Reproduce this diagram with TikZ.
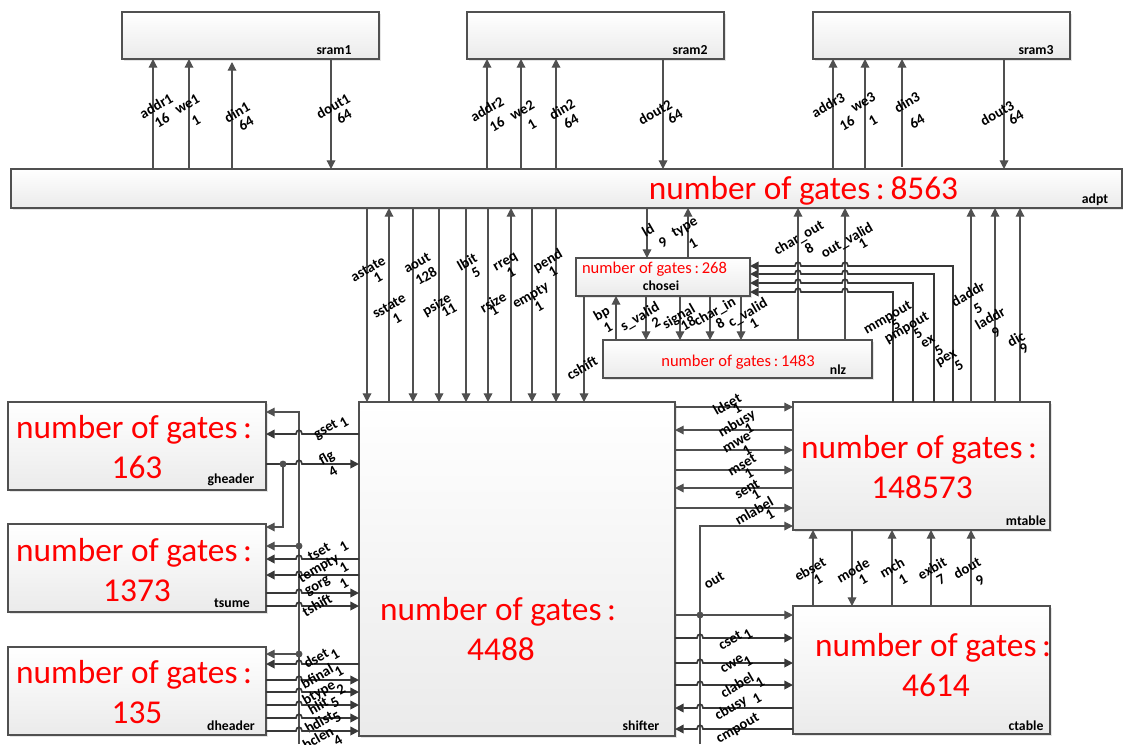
\documentclass[tikz,border=0pt]{standalone}
\usepackage{fontspec}
\setmainfont{Carlito}
\usepackage{tikz}
\usetikzlibrary{arrows.meta, shadows}
\usepackage{xcolor}

\definecolor{wire}{HTML}{505050}
\newcommand{\hop}[2]{-- (#1+3,#2) .. controls (#1+3,#2-5) and (#1-3,#2-5) .. (#1-3,#2)}
\newcommand{\gatesword}{number of gates\kern.17em:\kern.17em}

\begin{document}
\begin{tikzpicture}[
        x=0.75pt, y=-0.75pt,
        modbox/.style 2 args = {draw=wire, line width=0.8pt, inner sep=0, outer sep=0, minimum width=#1*0.75pt, minimum height=#2*0.75pt, top color=white, bottom color=black!8, drop shadow={shadow xshift=1.5pt, shadow yshift=-1.5pt, fill=black!10, opacity=1}},
        modname/.style = {font=\bfseries\fontsize{10.3}{12}\selectfont, inner sep=0, text=black},
        gatesbig/.style = {font=\fontsize{25}{30.4}\selectfont, text=red, align=center, inner sep=0},
        gatessmall/.style = {text=red, inner sep=0},
        sig/.style = {font=\bfseries\fontsize{11}{13}\selectfont, rotate=30, inner sep=0, text=black},
        arrow/.style = {-{Triangle[length=6.5pt, width=6.5pt]}, wire, line width=0.9pt},
        backarrow/.style = {{Triangle[length=6.5pt, width=6.5pt]}-, wire, line width=0.9pt},
        hopwire/.style = {line width=1.25pt, draw=black!78},
        dot/.style = {circle, fill=wire, inner sep=0, minimum size=5.2pt},
    ]
        \useasboundingbox (0,0) rectangle (1123,744);

        % modules
        \node[modbox={257}{47}] (sram1) at (250.5,35.5) {};
        \node[modbox={257}{47}] (sram2) at (595.5,35.5) {};
        \node[modbox={257}{47}] (sram3) at (941.5,35.5) {};
        \node[modbox={1111}{39}] (adpt) at (566.5,188.5) {};
        \node[modbox={174}{38}] (chosei) at (663,277) {};
        \node[modbox={269}{38}] (nlz) at (737.5,359) {};
        \node[modbox={316}{334}] (shifter) at (517,569) {};
        \node[modbox={257}{128}] (mtable) at (921.5,466) {};
        \node[modbox={257}{128}] (ctable) at (921.5,670) {};
        \node[modbox={258}{88}] (gheader) at (137,446) {};
        \node[modbox={258}{88}] (tsume) at (137,568) {};
        \node[modbox={258}{88}] (dheader) at (137,691) {};

        \node[modname] (sram1name) at (334,50) {sram1};
        \node[modname] (sram2name) at (690,50) {sram2};
        \node[modname] (sram3name) at (1036,50) {sram3};
        \node[modname] (adptname) at (1095,200) {adpt};
        \node[modname] (choseiname) at (661,286) {chosei};
        \node[modname] (nlzname) at (838,370) {nlz};
        \node[modname] (shiftername) at (641,726) {shifter};
        \node[modname] (mtablename) at (1026,521) {mtable};
        \node[modname] (ctablename) at (1026,726) {ctable};
        \node[modname] (gheadername) at (231,480) {gheader};
        \node[modname] (tsumename) at (232,603) {tsume};
        \node[modname] (dheadername) at (231,726) {dheader};

        \node[gatesbig] (adptgates) at (803.5,191) {\gatesword 8563};
        \node[gatessmall, font=\fontsize{12.4}{15}\selectfont] (choseigates) at (654.5,269) {\gatesword 268};
        \node[gatessmall, font=\fontsize{12.4}{15}\selectfont] (nlzgates) at (738,362) {\gatesword 1483};
        \node[gatesbig] (shiftergates) at (501,629) {\gatesword\\4488};
        \node[gatesbig] (mtablegates) at (922,467) {\gatesword\\148573};
        \node[gatesbig] (ctablegates) at (936,665) {\gatesword\\4614};
        \node[gatesbig] (gheadergates) at (137,447) {\gatesword\\163};
        \node[gatesbig] (tsumegates) at (137,570) {\gatesword\\1373};
        \node[gatesbig] (dheadergates) at (137,692) {\gatesword\\135};

        % free ends at the lower edge
        \coordinate (leftend) at (299,744);
        \coordinate (rightend) at (700,744);

        % sram ports
        \draw[arrow] (153,0 |- adpt.north) -- (153,0 |- sram1.south);
        \node[sig] (addr1) at (156,106) {addr1}; \node[sig] (addr1w) at (162,120) {16};
        \draw[arrow] (189,0 |- adpt.north) -- (189,0 |- sram1.south);
        \node[sig] (we1) at (187,104) {we1}; \node[sig] (we1w) at (196,121) {1};
        \draw[arrow] (232,0 |- adpt.north) -- (232,62);
        \node[sig] (din1) at (237,112) {din1}; \node[sig] (din1w) at (246,123) {64};
        \draw[arrow] (331,0 |- sram1.south) -- (331,0 |- adpt.north);
        \node[sig] (dout1) at (333,106) {dout1}; \node[sig] (dout1w) at (344,116) {64};
        \draw[arrow] (487,0 |- adpt.north) -- (487,0 |- sram2.south);
        \node[sig] (addr2) at (487,109) {addr2}; \node[sig] (addr2w) at (497,124) {16};
        \draw[arrow] (521,0 |- adpt.north) -- (521,0 |- sram2.south);
        \node[sig] (we2) at (522,110) {we2}; \node[sig] (we2w) at (532,125) {1};
        \draw[arrow] (556,0 |- adpt.north) -- (556,0 |- sram2.south);
        \node[sig] (din2) at (562,109) {din2}; \node[sig] (din2w) at (571,121) {64};
        \draw[arrow] (663,0 |- sram2.south) -- (663,0 |- adpt.north);
        \node[sig] (dout2) at (655,112) {dout2}; \node[sig] (dout2w) at (675,116) {64};
        \draw[arrow] (833,0 |- adpt.north) -- (833,0 |- sram3.south);
        \node[sig] (addr3) at (828,105) {addr3}; \node[sig] (addr3w) at (847,123) {16};
        \draw[arrow] (865,0 |- adpt.north) -- (865,0 |- sram3.south);
        \node[sig] (we3) at (863,102) {we3}; \node[sig] (we3w) at (873,121) {1};
        \draw[arrow] (902,167) -- (902,0 |- sram3.south);
        \node[sig] (din3) at (907,102) {din3}; \node[sig] (din3w) at (917,121) {64};
        \draw[arrow] (1004,0 |- sram3.south) -- (1004,0 |- adpt.north);
        \node[sig] (dout3) at (997,113) {dout3}; \node[sig] (dout3w) at (1016,117) {64};

        % adpt to shifter
        \draw[arrow] (367,0 |- adpt.south) -- (367,0 |- shifter.north);
        \node[sig] (astate) at (368,269) {astate}; \node[sig] (astatew) at (378,278) {1};
        \draw[arrow] (389,0 |- shifter.north) -- (389,0 |- adpt.south);
        \node[sig] (sstate) at (389,306) {sstate}; \node[sig] (sstatew) at (397,319) {1};
        \draw[arrow] (413,0 |- adpt.south) -- (413,0 |- shifter.north);
        \node[sig] (aout) at (417,263) {aout}; \node[sig] (aoutw) at (426,276) {128};
        \draw[arrow] (439,0 |- adpt.south) -- (439,0 |- shifter.north);
        \node[sig] (psize) at (437,305) {psize}; \node[sig] (psizew) at (449,310) {11};
        \draw[arrow] (466,0 |- adpt.south) -- (466,0 |- shifter.north);
        \node[sig] (lbit) at (467,262) {lbit}; \node[sig] (lbitw) at (476,273) {5};
        \draw[arrow] (488,0 |- adpt.south) -- (488,0 |- shifter.north);
        \node[sig] (rsize) at (493,302) {rsize}; \node[sig] (rsizew) at (494,311) {1};
        \draw[arrow] (511,0 |- shifter.north) -- (511,0 |- adpt.south);
        \node[sig] (rreq) at (506,263) {rreq}; \node[sig] (rreqw) at (511,273) {1};
        \draw[arrow] (532,0 |- adpt.south) -- (532,0 |- shifter.north);
        \node[sig] (empty) at (531,296) {empty}; \node[sig] (emptyw) at (539,307) {1};
        \draw[arrow] (556,0 |- adpt.south) -- (556,0 |- shifter.north);
        \node[sig] (pend) at (548,261) {pend}; \node[sig] (pendw) at (553,272) {1};
        \draw[arrow] (584,0 |- chosei.south) -- (584,0 |- shifter.north);
        \node[sig] (cshift) at (582,368) {cshift};

        % chosei and nlz
        \draw[arrow] (647,0 |- adpt.south) -- (647,0 |- chosei.north);
        \node[sig] (ld) at (648,230) {ld}; \node[sig] (ldw) at (663,242) {9};
        \draw[arrow] (688,0 |- chosei.north) -- (688,0 |- adpt.south);
        \node[sig] (type) at (685,228) {type}; \node[sig] (typew) at (693,244) {1};
        \draw[arrow] (616,0 |- nlz.north) -- (616,0 |- chosei.south);
        \node[sig] (bp) at (602,314) {bp}; \node[sig] (bpw) at (608,328) {1};
        \draw[arrow] (646,0 |- chosei.south) -- (646,0 |- nlz.north);
        \node[sig] (svalid) at (640,317) {s\_valid}; \node[sig] (svalidw) at (656,322) {2};
        \draw[arrow] (680,0 |- chosei.south) -- (680,0 |- nlz.north);
        \node[sig] (signal) at (679,317) {signal}; \node[sig] (signalw) at (688,323) {18};
        \draw[arrow] (710,0 |- chosei.south) -- (710,0 |- nlz.north);
        \node[sig] (charin) at (715,312) {char\_in}; \node[sig] (charinw) at (720,323) {8};
        \draw[arrow] (741,0 |- chosei.south) -- (741,0 |- nlz.north);
        \node[sig] (cvalid) at (748,313) {c\_valid}; \node[sig] (cvalidw) at (754,324) {1};
        \draw[arrow] (798,0 |- nlz.north) -- (798,0 |- adpt.south);
        \node[sig] (charout) at (799,238) {char\_out}; \node[sig] (charoutw) at (809,248) {8};
        \draw[arrow] (845,0 |- nlz.north) -- (845,0 |- adpt.south);
        \node[sig] (outvalid) at (847,241) {out\_valid}; \node[sig] (outvalidw) at (863,244) {1};

        % mtable to chosei
        \draw[arrow, hopwire] (893,0 |- mtable.north) -- (893,292) \hop{845}{292} \hop{798}{292} -- (chosei.east |- 0,292);
        \node[sig] (mmpout) at (888,318) {mmpout}; \node[sig] (mmpoutw) at (896,325) {5};
        \draw[arrow, hopwire] (913,0 |- mtable.north) -- (913,283) \hop{845}{283} \hop{798}{283} -- (chosei.east |- 0,283);
        \node[sig] (pmpout) at (907,328) {pmpout}; \node[sig] (pmpoutw) at (918,334) {5};
        \draw[arrow, hopwire] (934,0 |- mtable.north) -- (934,274) \hop{845}{274} \hop{798}{274} -- (chosei.east |- 0,274);
        \node[sig] (ex) at (928,342) {ex}; \node[sig] (exw) at (939,351) {5};
        \draw[arrow, hopwire] (953,0 |- mtable.north) -- (953,266) \hop{845}{266} \hop{798}{266} -- (chosei.east |- 0,266);
        \node[sig] (pex) at (947,359) {pex}; \node[sig] (pexw) at (959,366) {5};

        % mtable to adpt
        \draw[arrow] (971,0 |- mtable.north) -- (971,0 |- adpt.south);
        \node[sig] (daddr) at (968,294) {daddr}; \node[sig] (daddrw) at (978,309) {5};
        \draw[arrow] (995,0 |- mtable.north) -- (995,0 |- adpt.south);
        \node[sig] (laddr) at (990,318) {laddr}; \node[sig] (laddrw) at (996,332) {9};
        \draw[arrow] (1020,0 |- mtable.north) -- (1020,0 |- adpt.south);
        \node[sig] (dic) at (1016,339) {dic}; \node[sig] (dicw) at (1024,348) {9};

        % shifter and mtable
        \draw[arrow] (shifter.east |- 0,407) -- (mtable.west |- 0,407);
        \node[sig] (ldset) at (727,404) {ldset}; \node[sig] (ldsetw) at (737,409) {1};
        \draw[arrow] (mtable.west |- 0,430) -- (shifter.east |- 0,430);
        \node[sig] (mbusy) at (737,424) {mbusy}; \node[sig] (mbusyw) at (749,429) {1};
        \draw[arrow] (shifter.east |- 0,450) -- (mtable.west |- 0,450);
        \node[sig] (mwe) at (737,443) {mwe}; \node[sig] (mwew) at (747,451) {1};
        \draw[arrow] (shifter.east |- 0,470) -- (mtable.west |- 0,470);
        \node[sig] (mset) at (742,465) {mset}; \node[sig] (msetw) at (749,474) {1};
        \draw[arrow] (mtable.west |- 0,488) -- (shifter.east |- 0,488);
        \node[sig] (sent) at (747,489) {sent}; \node[sig] (sentw) at (756,495) {1};
        \draw[arrow] (shifter.east |- 0,508) -- (mtable.west |- 0,508);
        \node[sig] (mlabel) at (754,511) {mlabel}; \node[sig] (mlabelw) at (770,515) {1};

        % out branch
        \draw[arrow] (rightend) -- (700,526) -- (mtable.west |- 0,526);
        \node[sig] (out) at (714,580) {out};
        \draw[arrow] (shifter.east |- 0,615) -- (ctable.west |- 0,615);
        \node[dot] (outdot) at (700,615) {};

        % shifter and ctable
        \draw[backarrow, hopwire] (ctable.west |- 0,638) \hop{700}{638} -- (shifter.east |- 0,638);
        \node[sig] (cset) at (730,640) {cset}; \node[sig] (csetw) at (748,634) {1};
        \draw[backarrow, hopwire] (ctable.west |- 0,663) \hop{700}{663} -- (shifter.east |- 0,663);
        \node[sig] (cwe) at (732,664) {cwe}; \node[sig] (cwew) at (748,661) {1};
        \draw[backarrow, hopwire] (ctable.west |- 0,685) \hop{700}{685} -- (shifter.east |- 0,685);
        \node[sig] (clabel) at (737,685) {clabel}; \node[sig] (clabelw) at (760,682) {1};
        \draw[arrow, hopwire] (ctable.west |- 0,708) \hop{700}{708} -- (shifter.east |- 0,708);
        \node[sig] (cbusy) at (731,708) {cbusy}; \node[sig] (cbusyw) at (757,698) {1};
        \draw[arrow, hopwire] (ctable.west |- 0,729) \hop{700}{729} -- (shifter.east |- 0,729);
        \node[sig] (cmpout) at (738,729) {cmpout};

        % ctable and mtable
        \draw[arrow] (813,0 |- ctable.north) -- (813,0 |- mtable.south);
        \node[sig] (ebset) at (810,569) {ebset}; \node[sig] (ebsetw) at (818,580) {1};
        \draw[arrow] (852,0 |- mtable.south) -- (852,0 |- ctable.north);
        \node[sig] (mode) at (853,570) {mode}; \node[sig] (modew) at (863,580) {1};
        \draw[arrow] (892,0 |- ctable.north) -- (892,0 |- mtable.south);
        \node[sig] (mch) at (892,568) {mch}; \node[sig] (mchw) at (903,580) {1};
        \draw[arrow] (931,0 |- ctable.north) -- (931,0 |- mtable.south);
        \node[sig] (exbit) at (932,568) {exbit}; \node[sig] (exbitw) at (941,580) {7};
        \draw[arrow] (971,0 |- ctable.north) -- (971,0 |- mtable.south);
        \node[sig] (doutc) at (967,568) {dout}; \node[sig] (doutcw) at (980,580) {9};

        % left bus
        \draw[arrow] (leftend) -- (299,412) -- (gheader.east |- 0,412);
        \draw[arrow] (299,546) -- (tsume.east |- 0,546);
        \node[dot] (tsumedot) at (299,546) {};
        \draw[arrow] (299,654) -- (dheader.east |- 0,654);
        \node[dot] (dheaderdot) at (299,654) {};

        % shifter and gheader
        \draw[arrow, hopwire] (shifter.west |- 0,434) \hop{299}{434} -- (gheader.east |- 0,434);
        \node[sig] (gset) at (326,430) {gset}; \node[sig] (gsetw) at (344,423) {1};
        \draw[backarrow, hopwire] (shifter.west |- 0,464) \hop{299}{464} -- (gheader.east |- 0,464);
        \node[sig] (flg) at (327,458) {flg}; \node[sig] (flgw) at (333,472) {4};
        \node[dot] (flgdot) at (283,464) {};
        \draw[arrow] (flgdot.center) -- (283,527) -- (tsume.east |- 0,527);

        % shifter and tsume
        \draw[arrow, hopwire] (shifter.west |- 0,559) \hop{299}{559} -- (tsume.east |- 0,559);
        \node[sig] (tset) at (319,552) {tset}; \node[sig] (tsetw) at (344,547) {1};
        \draw[arrow, hopwire] (shifter.west |- 0,575) \hop{299}{575} -- (tsume.east |- 0,575);
        \node[sig] (tempty) at (319,569) {tempty}; \node[sig] (temptyw) at (344,568) {1};
        \draw[backarrow, hopwire] (shifter.west |- 0,593) \hop{299}{593} -- (tsume.east |- 0,593);
        \node[sig] (gorg) at (318,587) {gorg}; \node[sig] (gorgw) at (344,584) {1};
        \draw[backarrow, hopwire] (shifter.west |- 0,606) \hop{299}{606} -- (tsume.east |- 0,606);
        \node[sig] (tshift) at (317,605) {tshift};

        % shifter and dheader
        \draw[arrow, hopwire] (shifter.west |- 0,664) \hop{299}{664} -- (dheader.east |- 0,664);
        \node[sig] (dset) at (316,658) {dset}; \node[sig] (dsetw) at (335,655) {1};
        \draw[backarrow, hopwire] (shifter.west |- 0,680) \hop{299}{680} -- (dheader.east |- 0,680);
        \node[sig] (bfinal) at (317,676) {bfinal}; \node[sig] (bfinalw) at (339,671) {1};
        \draw[backarrow, hopwire] (shifter.west |- 0,692) \hop{299}{692} -- (dheader.east |- 0,692);
        \node[sig] (btype) at (319,693) {btype}; \node[sig] (btypew) at (341,689) {2};
        \draw[backarrow, hopwire] (shifter.west |- 0,705) \hop{299}{705} -- (dheader.east |- 0,705);
        \node[sig] (hlit) at (318,706) {hlit}; \node[sig] (hlitw) at (335,703) {5};
        \draw[backarrow, hopwire] (shifter.west |- 0,718) \hop{299}{718} -- (dheader.east |- 0,718);
        \node[sig] (hdist) at (319,722) {hdist}; \node[sig] (hdistw) at (337,718) {5};
        \draw[backarrow, hopwire] (shifter.west |- 0,731) \hop{299}{731} -- (dheader.east |- 0,731);
        \node[sig] (hclen) at (318,738) {hclen}; \node[sig] (hclenw) at (338,741) {4};
    \end{tikzpicture}
\end{document}
